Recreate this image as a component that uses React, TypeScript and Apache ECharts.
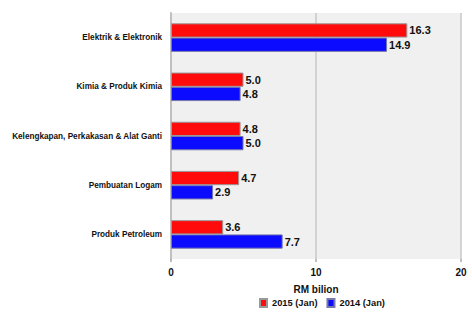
import React, { useEffect, useRef } from "react";
import * as echarts from "echarts";

const categories = [
  "Elektrik & Elektronik",
  "Kimia & Produk Kimia",
  "Kelengkapan, Perkakasan & Alat Ganti",
  "Pembuatan Logam",
  "Produk Petroleum",
];
const series2015 = [16.3, 5.0, 4.8, 4.7, 3.6];
const series2014 = [14.9, 4.8, 5.0, 2.9, 7.7];
const seriesNames = ["2015 (Jan)", "2014 (Jan)"];
const xTicks = { min: 0, max: 20, interval: 10 };
const xTitle = "RM bilion";

export default function App() {
  const ref = useRef<HTMLDivElement>(null);
  useEffect(() => {
    if (!ref.current) return;
    const chart = echarts.init(ref.current, null, { renderer: "svg" });
    const font = "Liberation Sans, Arial, sans-serif";
    const label = {
      show: true,
      position: "right",
      distance: 2,
      fontFamily: font,
      fontWeight: "bold",
      fontSize: 11,
      color: "#111",
      formatter: (p: any) => Number(p.value).toFixed(1),
    };
    chart.setOption({
      animation: false,
      grid: {
        left: 171,
        right: 11,
        top: 13,
        bottom: 58,
        show: true,
        backgroundColor: "#f0f0f0",
        borderWidth: 0,
      },
      legend: {
        top: 298,
        left: 259,
        padding: 0,
        itemWidth: 7,
        itemHeight: 8,
        itemGap: 9,
        icon: "rect",
        textStyle: { fontFamily: font, fontWeight: "bold", fontSize: 9.3, color: "#111" },
        data: seriesNames,
      },
      xAxis: {
        type: "value",
        min: xTicks.min,
        max: xTicks.max,
        interval: xTicks.interval,
        name: xTitle,
        nameLocation: "middle",
        nameGap: 25,
        nameTextStyle: { fontFamily: font, fontWeight: "bold", fontSize: 10, color: "#111" },
        axisLine: { show: false },
        axisTick: { show: true, length: 3, lineStyle: { color: "#aaa", width: 1.5 } },
        axisLabel: { fontFamily: font, fontWeight: "bold", fontSize: 10, color: "#111", margin: 8 },
        splitLine: { show: true, lineStyle: { color: "#c8c8c8", width: 1.5 } },
      },
      yAxis: {
        type: "category",
        inverse: true,
        data: categories,
        axisLine: { show: true, lineStyle: { color: "#c0c0c0", width: 2 } },
        axisTick: { show: false },
        axisLabel: { fontFamily: font, fontWeight: "bold", fontSize: 8.2, color: "#111", margin: 9 },
      },
      series: [
        {
          name: seriesNames[0],
          type: "bar",
          data: series2015,
          barGap: "0%",
          barCategoryGap: "42%",
          itemStyle: { color: "#ff0b0b", borderColor: "#999", borderWidth: 1 },
          label,
        },
        {
          name: seriesNames[1],
          type: "bar",
          data: series2014,
          itemStyle: { color: "#0b0bff", borderColor: "#7777aa", borderWidth: 1 },
          label,
        },
      ],
    });
    return () => chart.dispose();
  }, []);
  return (
    <div
      ref={ref}
      style={{ position: "absolute", left: 0, top: 0, width: 472, height: 317, background: "#fff" }}
    />
  );
}
